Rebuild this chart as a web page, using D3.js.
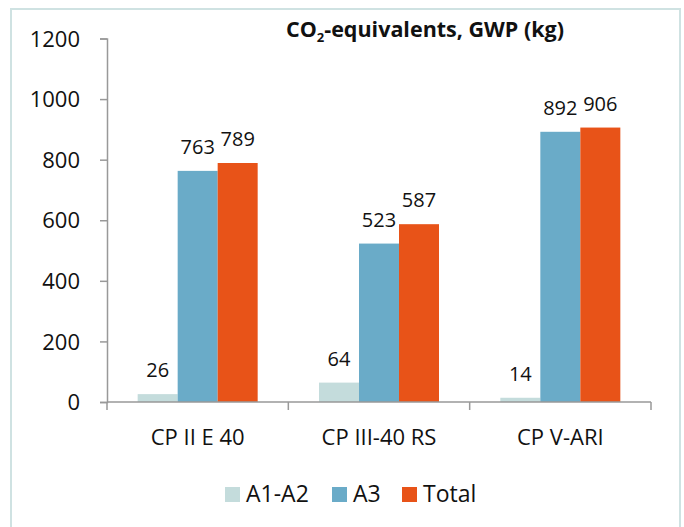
<!DOCTYPE html>
<html>
<head>
<meta charset="utf-8">
<script src="https://cdn.jsdelivr.net/npm/d3@7"></script>
<style>
  body { margin: 0; background: #fff; }
  svg text { font-family: "Open Sans", sans-serif; fill: #111; }
</style>
</head>
<body>
<svg width="684" height="527"></svg>
<script>
// chart data
const categories = ["CP II E 40", "CP III-40 RS", "CP V-ARI"];
const seriesNames = ["A1-A2", "A3", "Total"];
const a1a2 = [26, 64, 14];
const a3 = [763, 523, 892];
const total = [789, 587, 906];
const yTicks = [0, 200, 400, 600, 800, 1000, 1200];

const colors = ["#c4dcdc", "#6aabc8", "#e85318"];
const series = [a1a2, a3, total];

const svg = d3.select("svg");

// outer frame
svg.append("rect")
  .attr("x", 11).attr("y", 9)
  .attr("width", 669).attr("height", 540)
  .attr("fill", "none")
  .attr("stroke", "#cfe2e2")
  .attr("stroke-width", 2);

const x0 = d3.scaleBand().domain(categories).range([107, 651]);
const x1 = d3.scaleBand().domain(seriesNames).range([0, 120]);
const y = d3.scaleLinear().domain([0, 1200]).range([402, 38.5]);

// bars, one group per category
const groups = svg.selectAll("g.cat")
  .data(categories)
  .enter().append("g")
  .attr("class", "cat")
  .attr("transform", d => `translate(${x0(d) + (x0.bandwidth() - 120) / 2},0)`);

groups.selectAll("rect")
  .data((d, i) => seriesNames.map((s, j) => ({ s: s, v: series[j][i], c: colors[j] })))
  .enter().append("rect")
  .attr("x", d => x1(d.s))
  .attr("y", d => y(d.v))
  .attr("width", x1.bandwidth())
  .attr("height", d => y(0) - y(d.v))
  .attr("fill", d => d.c);

groups.selectAll("text.val")
  .data((d, i) => seriesNames.map((s, j) => ({ s: s, v: series[j][i] })))
  .enter().append("text")
  .attr("class", "val")
  .attr("x", d => x1(d.s) + x1.bandwidth() / 2)
  .attr("y", d => y(d.v) - 17)
  .attr("text-anchor", "middle")
  .style("font-size", "20px")
  .text(d => d.v);

// y axis
const yAxis = svg.append("g")
  .attr("transform", "translate(107,0)")
  .call(d3.axisLeft(y).tickValues(yTicks).tickFormat(d3.format("d")).tickSize(7).tickPadding(20));
yAxis.select(".domain").attr("stroke", "#999").attr("stroke-width", 1.5);
yAxis.selectAll(".tick line").attr("stroke", "#999").attr("stroke-width", 1.5);
yAxis.selectAll(".tick text")
  .style("font-size", "22px")
  .style("font-family", "'Open Sans', sans-serif")
  .attr("fill", "#111")
  .attr("dy", "0.35em");

// x axis, ticks between categories
const xAxis = svg.append("g")
  .attr("transform", "translate(0,402)");
xAxis.append("line")
  .attr("x1", 107).attr("x2", 651)
  .attr("stroke", "#999").attr("stroke-width", 1.5);
xAxis.selectAll("line.tk")
  .data(categories.concat([null]))
  .enter().append("line")
  .attr("class", "tk")
  .attr("x1", (d, i) => 107 + i * x0.bandwidth())
  .attr("x2", (d, i) => 107 + i * x0.bandwidth())
  .attr("y1", 0).attr("y2", 8)
  .attr("stroke", "#999").attr("stroke-width", 1.5);
xAxis.selectAll("text")
  .data(categories)
  .enter().append("text")
  .attr("x", d => x0(d) + x0.bandwidth() / 2)
  .attr("y", 43)
  .attr("text-anchor", "middle")
  .style("font-size", "22px")
  .text(d => d);

// title
const title = svg.append("text")
  .attr("x", 425).attr("y", 37)
  .attr("text-anchor", "middle")
  .style("font-size", "21.5px")
  .style("font-weight", "bold");
title.append("tspan").text("CO");
title.append("tspan").attr("dy", 5).style("font-size", "13px").text("2");
title.append("tspan").attr("dy", -5).text("-equivalents, GWP (kg)");

// legend
const legendX = [225, 332, 402];
const legend = svg.selectAll("g.leg")
  .data(seriesNames)
  .enter().append("g")
  .attr("class", "leg")
  .attr("transform", (d, i) => `translate(${legendX[i]},487)`);
legend.append("rect")
  .attr("width", 15).attr("height", 15)
  .attr("fill", (d, i) => colors[i]);
legend.append("text")
  .attr("x", 21).attr("y", 15)
  .style("font-size", "23px")
  .text(d => d);
</script>
</body>
</html>
